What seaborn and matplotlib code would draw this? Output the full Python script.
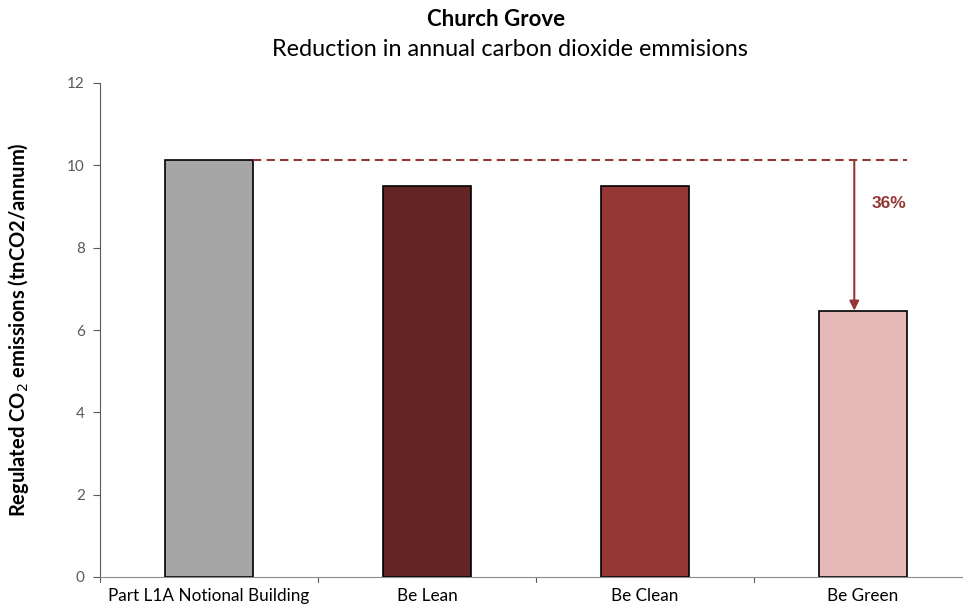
import matplotlib
matplotlib.use("Agg")
import matplotlib.pyplot as plt
import seaborn as sns
import pandas as pd

# Emissions at each stage of the energy hierarchy
categories = ["Part L1A Notional Building", "Be Lean", "Be Clean", "Be Green"]
emissions = [10.12, 9.50, 9.50, 6.47]
bar_colors = ["#A6A6A6", "#632523", "#953735", "#E6B9B8"]
reduction_label = "36%"
y_ticks = [0, 2, 4, 6, 8, 10, 12]

sns.set_theme(style="white")
plt.rcParams["font.family"] = ["Lato", "DejaVu Sans"]
plt.rcParams["text.color"] = "black"
plt.rcParams["axes.labelcolor"] = "black"

df = pd.DataFrame({"stage": categories, "co2": emissions})

fig = plt.figure(figsize=(9.63, 6.16), dpi=100)
ax = fig.add_axes([100 / 963, 39 / 616, 872 / 963, 494 / 616])

sns.barplot(data=df, x="stage", y="co2", hue="stage", palette=bar_colors,
            saturation=1, width=0.4, edgecolor="black", linewidth=1.2,
            legend=False, ax=ax)

ax.set_ylim(0, 12)
ax.set_xlim(-0.5, len(categories) - 0.5)
ax.set_yticks(y_ticks)
ax.set_yticklabels([str(t) for t in y_ticks], color="#595959", fontsize=11)
ax.tick_params(axis="x", labelsize=12.3, colors="black", length=0, pad=8)
ax.tick_params(axis="y", length=5, width=0.8, color="#595959", left=True, pad=6)

# category boundary ticks on the x axis
for b in range(len(categories) + 1):
    ax.plot([b - 0.5, b - 0.5], [0, -0.13], color="#595959", lw=0.8,
            clip_on=False)

for s in ["top", "right"]:
    ax.spines[s].set_visible(False)
ax.spines["left"].set_color("#595959")
ax.spines["left"].set_linewidth(0.8)
ax.spines["bottom"].set_color("#8C8C8C")
ax.spines["bottom"].set_linewidth(0.8)

ax.set_xlabel("")
ax.set_ylabel("Regulated CO$_2$ emissions (tnCO2/annum)", fontsize=14.5,
              fontweight="bold")
ax.yaxis.set_label_coords(-0.079, 0.5)

# baseline reference and reduction arrow
base = emissions[0]
final = emissions[-1]
accent = "#953735"
ax.plot([0.2, 3.2], [base, base], color=accent, lw=1.5, ls=(0, (4, 2.5)))
ax.annotate("", xy=(2.96, final), xytext=(2.96, base),
            arrowprops=dict(arrowstyle="-|>", color=accent, lw=1.5,
                            mutation_scale=14, shrinkA=0, shrinkB=0))
ax.text(3.12, 9.08, reduction_label, color=accent, fontsize=12.5,
        fontweight="bold", ha="center", va="center",
        family=["Liberation Sans", "DejaVu Sans"])

fig.text(496 / 963, 1 - 19 / 616, "Church Grove", ha="center", va="center",
         fontsize=16, fontweight="bold")
fig.text(510 / 963, 1 - 50 / 616,
         "Reduction in annual carbon dioxide emmisions",
         ha="center", va="center", fontsize=16.8)

fig.savefig("out.png", dpi=100)
